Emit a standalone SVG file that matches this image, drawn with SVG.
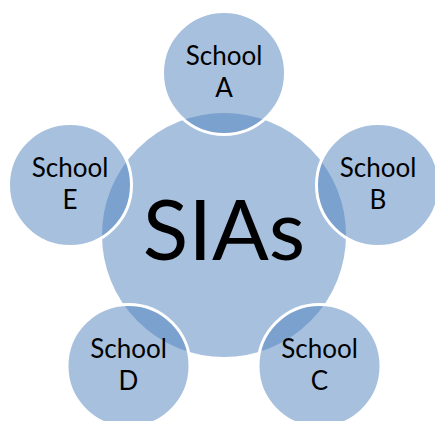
<svg xmlns="http://www.w3.org/2000/svg" width="435" height="421" viewBox="0 0 435 421">
<style>
.c{fill:#4F81BD;fill-opacity:0.5;stroke:#FFFFFF;stroke-width:3}
.t{font-family:Lato,"Liberation Sans",sans-serif;font-size:26px;fill:#000;text-anchor:middle}
.big{font-family:Lato,"Liberation Sans",sans-serif;font-size:84px;fill:#000;text-anchor:middle}
</style>
<rect width="435" height="421" fill="#FFFFFF"/>
<g id="connectors"></g>
<g id="sias">
<circle class="c" cx="224" cy="235" r="123.5"/>
<text class="big" x="224" y="260">SIAs</text>
</g>
<g id="schoolA">
<circle class="c" cx="224" cy="73" r="61.5"/>
<text class="t" x="224" y="65">School</text>
<text class="t" x="224" y="97">A</text>
</g>
<g id="schoolB">
<circle class="c" cx="378" cy="185" r="61.5"/>
<text class="t" x="378" y="177">School</text>
<text class="t" x="378" y="209">B</text>
</g>
<g id="schoolC">
<circle class="c" cx="319.5" cy="366" r="61.5"/>
<text class="t" x="319.5" y="358">School</text>
<text class="t" x="319.5" y="390">C</text>
</g>
<g id="schoolD">
<circle class="c" cx="128.5" cy="366" r="61.5"/>
<text class="t" x="128.5" y="358">School</text>
<text class="t" x="128.5" y="390">D</text>
</g>
<g id="schoolE">
<circle class="c" cx="70" cy="185" r="61.5"/>
<text class="t" x="70" y="177">School</text>
<text class="t" x="70" y="209">E</text>
</g>
</svg>
